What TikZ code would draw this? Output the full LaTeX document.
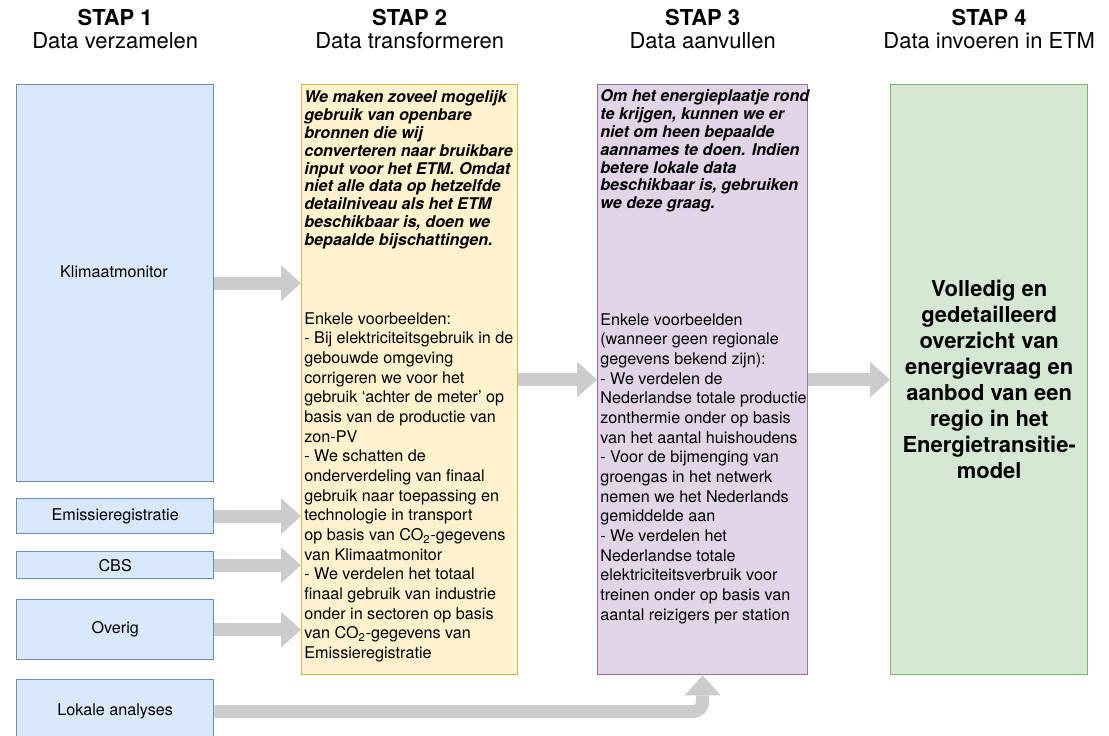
\documentclass[tikz,border=0pt]{standalone}
\usepackage{fontspec}
\setmainfont{TeX Gyre Heros}
\usetikzlibrary{arrows.meta,positioning}

\definecolor{bronvul}{HTML}{DAE8FC}
\definecolor{bronrand}{HTML}{6C8EBF}
\definecolor{geelvul}{HTML}{FFF2CC}
\definecolor{geelrand}{HTML}{D6B656}
\definecolor{paarsvul}{HTML}{E1D5E7}
\definecolor{paarsrand}{HTML}{9673A6}
\definecolor{groenvul}{HTML}{D5E8D4}
\definecolor{groenrand}{HTML}{82B366}
\definecolor{pijlgrijs}{HTML}{CCCCCC}

\begin{document}
\begin{tikzpicture}[x=0.02cm, y=-0.02cm,
    bron/.style = {draw=bronrand, fill=bronvul, line width=0.8pt, inner sep=0pt,
                   anchor=north west, minimum width=3.94cm, font=\fontsize{9.2}{11}\selectfont},
    stapbox/.style = {line width=0.8pt, inner sep=0pt, anchor=north west, minimum height=11.8cm},
    kop/.style = {align=center, font=\fontsize{12.5}{13}\selectfont},
    intro/.style = {anchor=north west, inner sep=0pt, align=left,
                    font=\bfseries\itshape\fontsize{9.2}{10.2}\selectfont},
    uitleg/.style = {anchor=north west, inner sep=0pt, align=left,
                     font=\fontsize{9.2}{11.2}\selectfont},
    pijl/.style = {draw=pijlgrijs, line width=0.26cm,
                   -{Triangle[length=0.4cm, width=0.72cm, line width=0pt]}},
    ]
    \useasboundingbox (0,0) rectangle (1109,736);

    % bronnen
    \node[bron, minimum height=7.94cm] (klim) at (16,84) {};
    \node[font=\fontsize{9.2}{11}\selectfont] (klimtekst) at (114,272) {Klimaatmonitor};
    \node[bron, minimum height=0.70cm] (emis) at (16,498) {Emissieregistratie};
    \node[bron, minimum height=0.54cm] (cbs) at (16,551) {CBS};
    \node[bron, minimum height=1.20cm] (overig) at (16,599) {Overig};
    \node[bron, minimum height=1.28cm] (lokaal) at (16,679) {Lokale analyses};

    % stappen
    \node[stapbox, draw=geelrand, fill=geelvul, minimum width=4.32cm] (transform) at (301,84) {};
    \node[stapbox, draw=paarsrand, fill=paarsvul, minimum width=4.2cm] (aanvul) at (597,84) {};
    \node[stapbox, draw=groenrand, fill=groenvul, minimum width=3.94cm, align=center,
          font=\bfseries\fontsize{12.5}{14.8}\selectfont] (invoer) at (890,84)
          {Volledig en\\gedetailleerd\\overzicht van\\energievraag en\\aanbod van een\\regio in het\\Energietransitie-\\model};

    \node[kop, above=0.58cm of klim] (kop1) {\textbf{STAP 1}\\Data verzamelen};
    \node[kop, above=0.58cm of transform] (kop2) {\textbf{STAP 2}\\Data transformeren};
    \node[kop, above=0.58cm of aanvul] (kop3) {\textbf{STAP 3}\\Data aanvullen};
    \node[kop, above=0.58cm of invoer] (kop4) {\textbf{STAP 4}\\Data invoeren in ETM};

    \node[intro] (transformintro) at (304,90) {We maken zoveel mogelijk\\gebruik van openbare\\bronnen die wij\\converteren naar bruikbare\\input voor het ETM. Omdat\\niet alle data op hetzelfde\\detailniveau als het ETM\\beschikbaar is, doen we\\bepaalde bijschattingen.};
    \node[uitleg] (transformvb) at (304,312) {Enkele voorbeelden:\\- Bij elektriciteitsgebruik in de\\gebouwde omgeving\\corrigeren we voor het\\gebruik `achter de meter' op\\basis van de productie van\\zon-PV\\- We schatten de\\onderverdeling van finaal\\gebruik naar toepassing en\\technologie in transport\\op basis van CO\textsubscript{2}-gegevens\\van Klimaatmonitor\\- We verdelen het totaal\\finaal gebruik van industrie\\onder in sectoren op basis\\van CO\textsubscript{2}-gegevens van\\Emissieregistratie};

    \node[intro] (aanvulintro) at (600,89) {Om het energieplaatje rond\\te krijgen, kunnen we er\\niet om heen bepaalde\\aannames te doen. Indien\\betere lokale data\\beschikbaar is, gebruiken\\we deze graag.};
    \node[uitleg] (aanvulvb) at (600,313) {Enkele voorbeelden\\(wanneer geen regionale\\gegevens bekend zijn):\\- We verdelen de\\Nederlandse totale productie\\zonthermie onder op basis\\van het aantal huishoudens\\- Voor de bijmenging van\\groengas in het netwerk\\nemen we het Nederlands\\gemiddelde aan\\- We verdelen het\\Nederlandse totale\\elektriciteitsverbruik voor\\treinen onder op basis van\\aantal reizigers per station};

    % pijlen
    \draw[pijl] (klim.east) -- (klim.east -| transform.west);
    \draw[pijl] (emis.east) -- (emis.east -| transform.west);
    \draw[pijl] (cbs.east) -- (cbs.east -| transform.west);
    \draw[pijl] (overig.east) -- (overig.east -| transform.west);
    \draw[pijl] (transform.east) -- (aanvul.west);
    \draw[pijl] (aanvul.east) -- (invoer.west);
    \draw[pijl, rounded corners=0.2cm] (lokaal.east) -| (aanvul.south);
\end{tikzpicture}
\end{document}
